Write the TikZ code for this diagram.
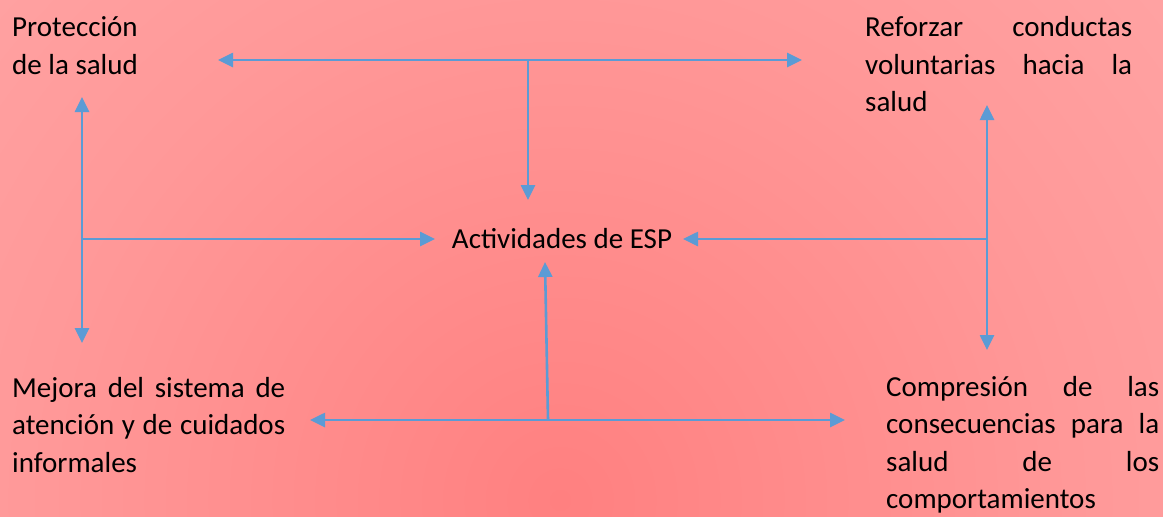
\documentclass[tikz,border=0pt]{standalone}
\usepackage{fontspec}
\setmainfont{Carlito}
\usetikzlibrary{arrows.meta}
\definecolor{arrowblue}{HTML}{5B9BD5}
\definecolor{bgA}{RGB}{255,128,128}
\definecolor{bgB}{RGB}{255,152,152}
\definecolor{bgC}{RGB}{255,170,170}
\definecolor{bgD}{RGB}{255,182,182}
\definecolor{bgE}{RGB}{255,185,185}
\pgfdeclareradialshading{bgshade}{\pgfpoint{0bp}{0bp}}{color(0bp)=(bgA); color(16bp)=(bgB); color(31bp)=(bgC); color(47bp)=(bgD); color(50bp)=(bgE)}
\tikzset{
  conn/.style={draw=arrowblue, line width=2.6pt},
  tip/.style={-{Triangle[length=15pt,width=14pt]}},
  tips/.style={{Triangle[length=15pt,width=14pt]}-{Triangle[length=15pt,width=14pt]}},
  lbl/.style={inner sep=0pt, anchor=north west, align=justify, text width=#1,
    font=\fontsize{29}{37.5}\selectfont},
}
\begin{document}
\begin{tikzpicture}[x=1pt,y=-1pt]
\useasboundingbox (0,0) rectangle (1163,517);
\begin{scope}
\clip (0,0) rectangle (1163,517);
\shade[shading=bgshade] (-240,-300) rectangle (1360,1300);
\end{scope}

% text nodes
\node[lbl=200pt] (prot) at (12,10.5) {\strut Protección\\de la salud};
\node[lbl=267pt] (refo) at (865,10.5) {\strut Reforzar conductas\linebreak voluntarias hacia la\linebreak salud};
\node[lbl=273pt] (mejo) at (12,371) {\strut Mejora del sistema de\linebreak atención y de cuidados\linebreak informales};
\node[lbl=273pt] (comp) at (886,370) {\strut Compresión de las\linebreak consecuencias para la\linebreak salud de los\linebreak comportamientos};
\node[inner sep=0pt, anchor=base, font=\fontsize{29}{37.5}\selectfont] (act) at (562,248) {Actividades de ESP};

% connector end points
\coordinate (tl) at (218,60);
\coordinate (tr) at (802,60);
\coordinate (tm) at (528,60);
\coordinate (tmd) at (528,200);
\coordinate (lt) at (82,97);
\coordinate (lb) at (82,343);
\coordinate (lm) at (82,239);
\coordinate (lmr) at (435,239);
\coordinate (rt) at (987,105);
\coordinate (rb) at (987,350);
\coordinate (rm) at (987,239);
\coordinate (rml) at (683,239);
\coordinate (bl) at (310,420);
\coordinate (br) at (845,420);
\coordinate (bm) at (548,420);
\coordinate (bmu) at (545,262);

% connectors
\draw[conn,tips] (tl) -- (tr);
\draw[conn,tip] (tm) -- (tmd);
\draw[conn,tips] (lt) -- (lb);
\draw[conn,tip] (lm) -- (lmr);
\draw[conn,tips] (rt) -- (rb);
\draw[conn,tip] (rm) -- (rml);
\draw[conn,tips] (bl) -- (br);
\draw[conn,tip] (bm) -- (bmu);
\end{tikzpicture}
\end{document}
